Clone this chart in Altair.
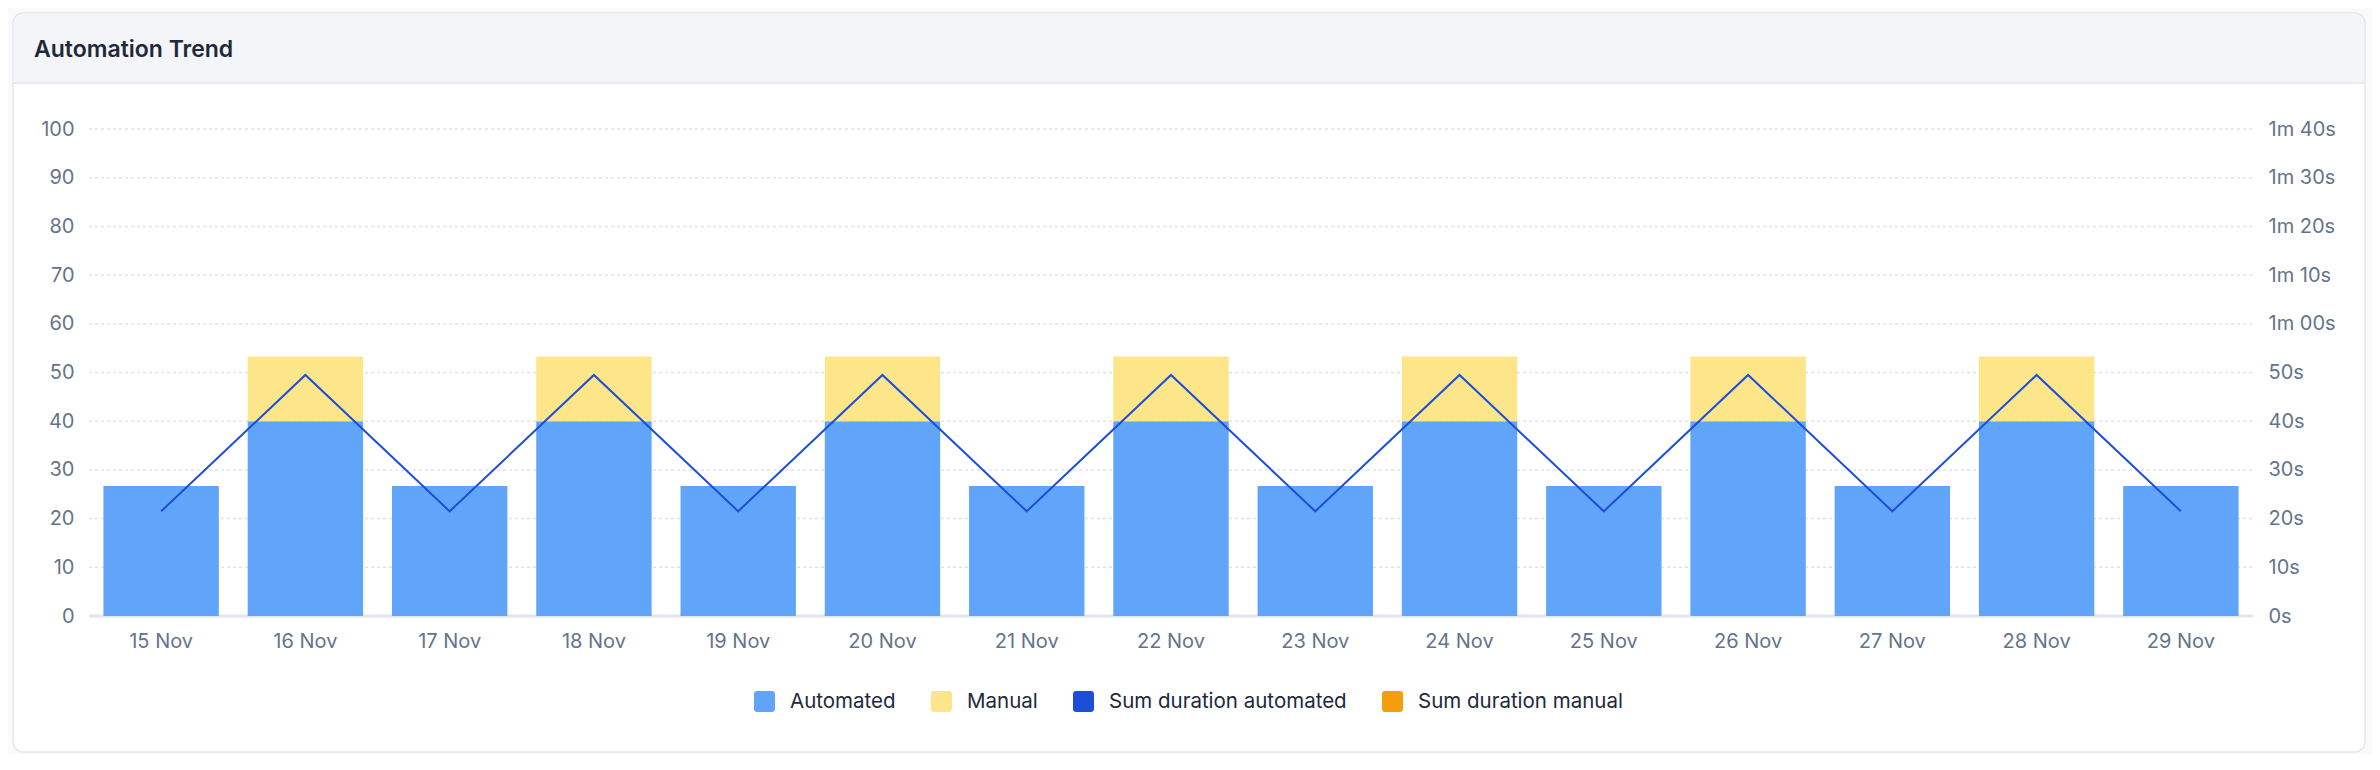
import altair as alt
import pandas as pd

# ---------------- data ----------------
dates = ["15 Nov", "16 Nov", "17 Nov", "18 Nov", "19 Nov", "20 Nov", "21 Nov", "22 Nov",
         "23 Nov", "24 Nov", "25 Nov", "26 Nov", "27 Nov", "28 Nov", "29 Nov"]
automated = [26.7, 40, 26.7, 40, 26.7, 40, 26.7, 40, 26.7, 40, 26.7, 40, 26.7, 40, 26.7]
manual = [0, 13.3, 0, 13.3, 0, 13.3, 0, 13.3, 0, 13.3, 0, 13.3, 0, 13.3, 0]
sum_duration_automated = [21.5, 49.5, 21.5, 49.5, 21.5, 49.5, 21.5, 49.5,
                          21.5, 49.5, 21.5, 49.5, 21.5, 49.5, 21.5]
series_names = ["Automated", "Manual", "Sum duration automated", "Sum duration manual"]
series_colors = ["#60a5fa", "#fde68a", "#1d4ed8", "#f59e0b"]
count_ticks = [0, 10, 20, 30, 40, 50, 60, 70, 80, 90, 100]
seconds_ticks = [0, 10, 20, 30, 40, 50, 60, 70, 80, 90, 100]
title_text = "Automation Trend"

# ---------------- tables ----------------
rows = []
for d, a, m in zip(dates, automated, manual):
    rows.append({"date": d, "series": "Automated", "value": a, "ord": 0})
    if m > 0:
        rows.append({"date": d, "series": "Manual", "value": m, "ord": 1})
bar_df = pd.DataFrame(rows)
line_df = pd.DataFrame({"date": dates, "seconds": sum_duration_automated})
grid_df = pd.DataFrame({"tick": [t for t in count_ticks if t > 0]})
base_df = pd.DataFrame({"tick": [0]})
deco = alt.Data(values=[{}])

PW, PH = 2164, 487
FONT = "Inter"
AX = dict(labelFont=FONT, labelFontSize=20, labelColor="#64748b",
          domain=False, ticks=False, grid=False, zindex=2, title=None)

# ---------------- decoration (card) ----------------
card = alt.Chart(deco).mark_rect(
    fill="#ffffff", stroke="#e3e6ec", strokeWidth=1.5, cornerRadius=10
).encode(x=alt.value(-76), x2=alt.value(2276), y=alt.value(-116), y2=alt.value(623))

header = alt.Chart(deco).mark_rect(
    fill="#f4f5f9", cornerRadiusTopLeft=10, cornerRadiusTopRight=10
).encode(x=alt.value(-75.2), x2=alt.value(2275.2), y=alt.value(-115.2), y2=alt.value(-46))

header_line = alt.Chart(deco).mark_rule(color="#e3e6ec", strokeWidth=1.5).encode(
    x=alt.value(-76), x2=alt.value(2276), y=alt.value(-46)
)

title = alt.Chart(deco).mark_text(
    text=title_text, align="left", baseline="alphabetic", font=FONT,
    fontSize=23, fontWeight=600, color="#1e293b"
).encode(x=alt.value(-55), y=alt.value(-72))

# ---------------- grid ----------------
grid = alt.Chart(grid_df).mark_rule(color="#dfe4ec", strokeDash=[3, 3], strokeWidth=1.5).encode(
    y=alt.Y("tick:Q", scale=alt.Scale(domain=[0, 100], nice=False), axis=None),
    x=alt.value(0), x2=alt.value("width"),
)
baseline = alt.Chart(base_df).mark_rule(color="#e2e6ee", strokeWidth=3).encode(
    y=alt.Y("tick:Q", scale=alt.Scale(domain=[0, 100], nice=False), axis=None),
    x=alt.value(0), x2=alt.value("width"),
)

# ---------------- bars ----------------
legend_symbol = "M-0.7,-1H0.7Q1,-1,1,-0.7V0.7Q1,1,0.7,1H-0.7Q-1,1,-1,0.7V-0.7Q-1,-1,-0.7,-1Z"

bars = alt.Chart(bar_df).mark_bar().encode(
    x=alt.X("date:N", sort=dates,
            scale=alt.Scale(paddingInner=0.2, paddingOuter=0.1),
            axis=alt.Axis(labelAngle=0, labelPadding=15, **AX)),
    y=alt.Y("value:Q", stack="zero",
            scale=alt.Scale(domain=[0, 100], nice=False),
            axis=alt.Axis(orient="left", values=count_ticks, labelPadding=15, **AX)),
    color=alt.Color("series:N",
                    scale=alt.Scale(domain=series_names, range=series_colors),
                    legend=alt.Legend(
                        title=None, orient="none", legendX=665, legendY=562,
                        direction="horizontal", columnPadding=35, labelOffset=15,
                        symbolType=legend_symbol, symbolSize=441, symbolStrokeWidth=0,
                        labelFont=FONT, labelFontSize=20.5, labelColor="#1e293b",
                        labelLimit=400, padding=0, zindex=2)),
    order=alt.Order("ord:Q"),
)

# ---------------- line ----------------
sec_label = ("datum.value < 60 ? datum.value + 's' : floor(datum.value / 60) + 'm ' + "
             "(datum.value % 60 < 10 ? '0' : '') + (datum.value % 60) + 's'")
line = alt.Chart(line_df).mark_line(color="#1d4ed8", strokeWidth=2).encode(
    x=alt.X("date:N", sort=dates),
    y=alt.Y("seconds:Q", scale=alt.Scale(domain=[0, 100], nice=False),
            axis=alt.Axis(orient="right", values=seconds_ticks,
                          labelExpr=sec_label, labelPadding=15, **AX)),
)

chart = alt.layer(card, header, header_line, title, grid, baseline, bars, line).resolve_scale(
    y="independent"
).properties(
    width=PW, height=PH,
    padding={"left": 81, "top": 121, "right": 119, "bottom": 138},
    autosize=alt.AutoSizeParams(type="none"),
    background="#fafafa",
).configure_view(stroke=None)

chart.save("out.html", embed_options={"renderer": "svg", "actions": False})
